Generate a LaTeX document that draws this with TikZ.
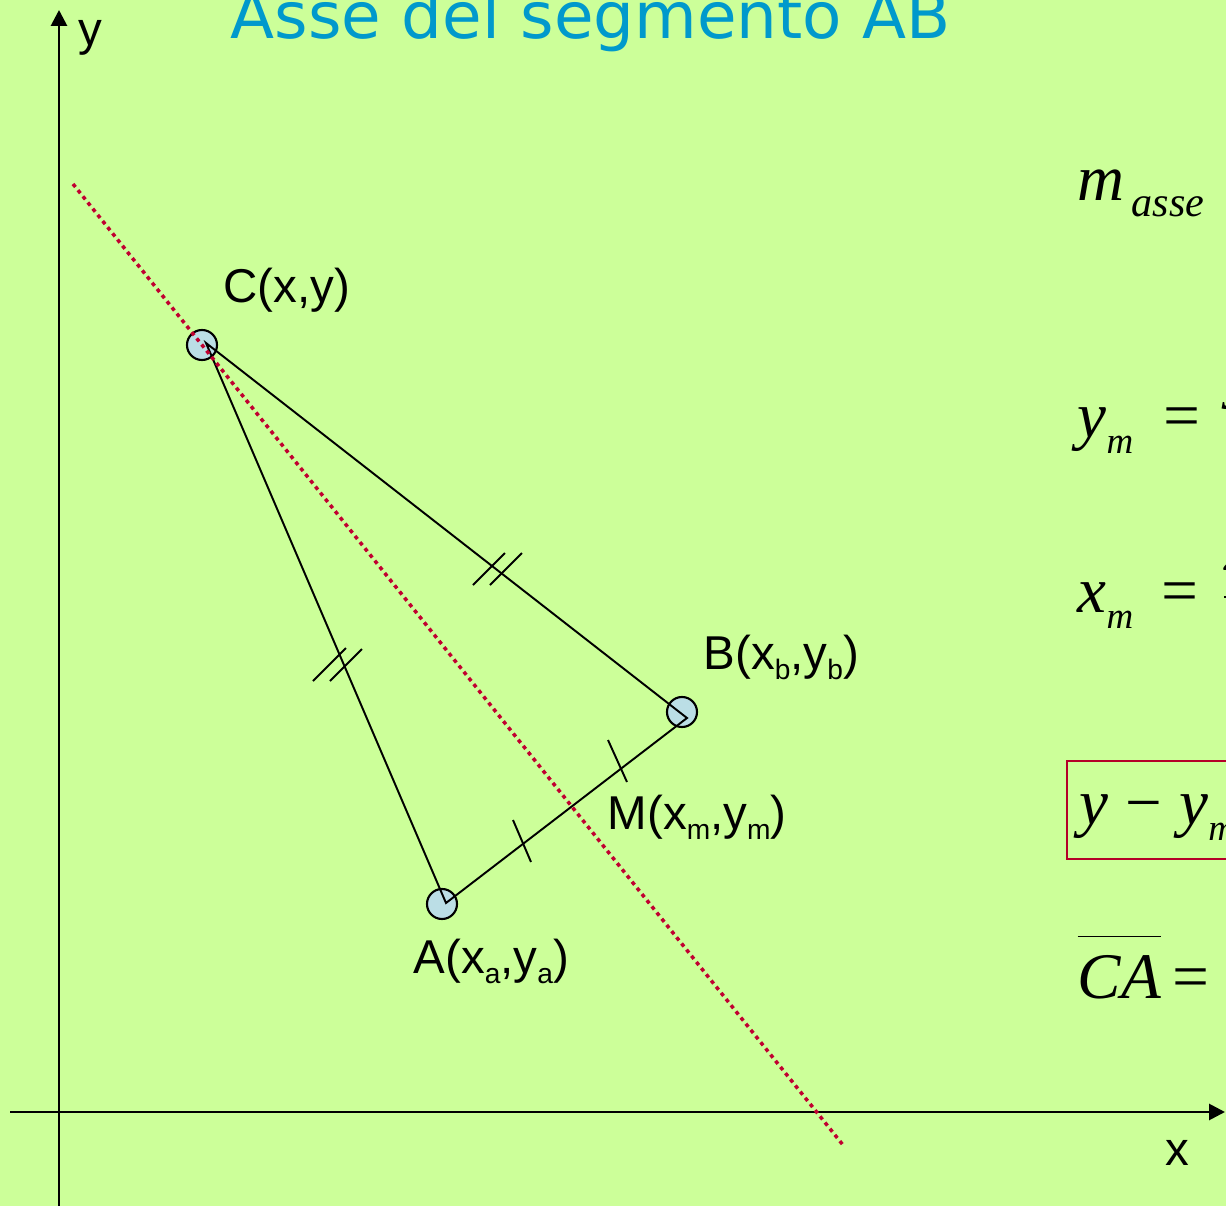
\documentclass[tikz,border=0pt]{standalone}
\usepackage{fontspec}
\setmainfont{Liberation Sans}
\newfontfamily\titlefont{DejaVu Sans}
\newfontfamily\formfont{Liberation Serif}
\usetikzlibrary{arrows.meta}
\definecolor{bggreen}{RGB}{204,255,153}
\definecolor{ptblue}{RGB}{187,222,230}
\definecolor{asred}{RGB}{192,0,48}
\definecolor{boxred}{RGB}{180,0,40}
\definecolor{ttlblue}{RGB}{0,153,204}
% pedici
\newcommand{\lsub}[1]{\raisebox{-3.1pt}{\fontsize{8}{8}\selectfont #1}}
\newcommand{\fsub}[2][10.5]{\raisebox{-.25em}{\fontsize{#1}{#1}\selectfont #2}}
\newsavebox{\ovbox}
\newcommand{\ovl}[1]{\sbox\ovbox{#1}\rlap{\rule[.93em]{\wd\ovbox}{.45pt}}\usebox\ovbox}
\begin{document}
\begin{tikzpicture}[x=.01cm,y=-.01cm,
    lbl/.style={font=\fontsize{13.5}{14}\selectfont,inner sep=0pt,anchor=base west},
    frm/.style={font=\formfont\itshape\fontsize{18.5}{20}\selectfont,inner sep=0pt,anchor=base west},
    pt/.style={circle,draw,fill=ptblue,minimum size=.3cm,inner sep=0pt,line width=.6pt},
    axis/.style={line width=.8pt,-{Triangle[length=4.5pt,width=4.5pt]}},
    seg/.style={line width=.55pt},
    tickmk/.style={line width=.55pt},
    asse/.style={asred,line width=1pt,dash pattern=on 1.1pt off 1.15pt}]
    \useasboundingbox (0,0) rectangle (1226,1206);
    \fill[bggreen] (0,0) rectangle (1226,1206);
    \clip (0,0) rectangle (1226,1206);
    \node[anchor=base west,inner sep=0pt,ttlblue,font=\titlefont\fontsize{18.3}{20}\selectfont] (title) at (230,38) {Asse del segmento AB};
    % assi
    \draw[axis] (10,1112) -- (1225,1112);
    \draw[axis] (59,1206) -- (59,10);
    \node[lbl] (ylab) at (78,45) {y};
    \node[lbl] (xlab) at (1165,1165) {x};
    % punti
    \node[pt] (C) at (202,345) {};
    \node[pt] (B) at (682,712) {};
    \node[pt] (A) at (442,904) {};
    \coordinate (vC) at (206,343);
    \coordinate (vB) at (687,718);
    \coordinate (vA) at (446,903);
    \draw[seg] (vC) -- (vB) -- (vA) -- cycle;
    % asse del segmento
    \coordinate (s1) at (73,184);
    \coordinate (s2) at (843,1145);
    \draw[asse] (s1) -- (s2);
    % segni di uguaglianza
    \draw[tickmk] (313,681) -- (346,648) (330,681) -- (362,649);
    \draw[tickmk] (473,585) -- (505,553) (490,585) -- (522,553);
    \draw[tickmk] (608,740) -- (627,782) (513,820) -- (531,862);
    % etichette
    \node[lbl] (Clab) at (223,302) {C(x,y)};
    \node[lbl] (Blab) at (703,669) {B(x\lsub{b},y\lsub{b})};
    \node[lbl] (Mlab) at (607,829) {M(x\lsub{m},y\lsub{m})};
    \node[lbl] (Alab) at (413,973) {A(x\lsub{a},y\lsub{a})};
    % formule
    \node[frm] (masse) at (1077,200) {m\fsub[12]{\,asse}};
    \node[frm] (ym) at (1077,437) {y\fsub{m}\hspace{.26cm}=\hspace{.2cm}$\displaystyle\frac{\mbox{y\fsub{a}\,+\,y\fsub{b}}}{\mbox{2}}$};
    \node[frm] (xm) at (1077,612) {x\fsub{m}\hspace{.24cm}=\hspace{.19cm}$\displaystyle\frac{\mbox{x\fsub{a}\,+\,x\fsub{b}}}{\mbox{2}}$};
    \node[frm,draw=boxred,line width=.45pt,anchor=west,minimum height=.98cm,inner xsep=.13cm] (eq) at (1066,810)
        {y\hspace{.17cm}\textup{\char"2212}\hspace{.17cm}y\fsub{m}\hspace{.2cm}=\hspace{.2cm}m\fsub[12]{\,asse}(x\,\textup{\char"2212}\,x\fsub{m})};
    \node[frm] (ca) at (1077,998) {\ovl{CA}\hspace{.08cm}=\hspace{.2cm}\ovl{CB}};
\end{tikzpicture}
\end{document}
